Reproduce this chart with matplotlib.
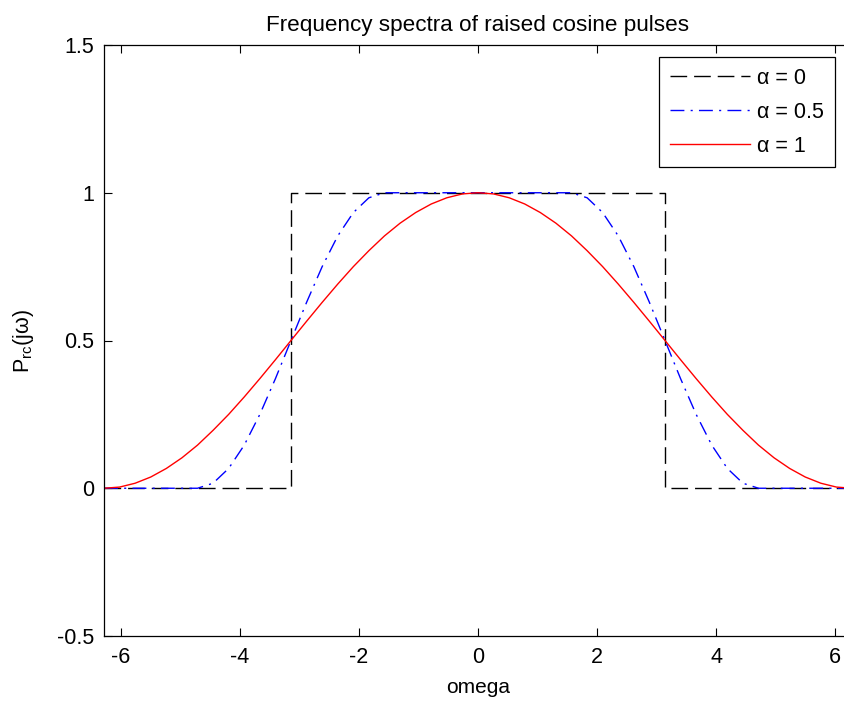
import matplotlib
matplotlib.use("Agg")
import matplotlib.pyplot as plt

plt.rcParams['font.family'] = ['Liberation Sans', 'DejaVu Sans']
plt.rcParams['lines.scale_dashes'] = False

# omega sample points (pi/12 steps from -2pi to 2pi)
omega = [-6.283, -6.021, -5.760, -5.498, -5.236, -4.974, -4.712, -4.451, -4.189,
         -3.927, -3.665, -3.403, -3.142, -2.880, -2.618, -2.356, -2.094, -1.833,
         -1.571, -1.309, -1.047, -0.785, -0.524, -0.262, 0.000, 0.262, 0.524,
         0.785, 1.047, 1.309, 1.571, 1.833, 2.094, 2.356, 2.618, 2.880, 3.142,
         3.403, 3.665, 3.927, 4.189, 4.451, 4.712, 4.974, 5.236, 5.498, 5.760,
         6.021, 6.283]

# alpha = 0 (ideal rectangle)
omega_a0 = [-6.283, -3.142, -3.142, 3.142, 3.142, 6.283]
p_a0 = [0, 0, 1, 1, 0, 0]

# alpha = 0.5
p_a05 = [0, 0, 0, 0, 0, 0, 0, 0.017, 0.067, 0.146, 0.250, 0.371, 0.500,
         0.629, 0.750, 0.854, 0.933, 0.983, 1, 1, 1, 1, 1, 1, 1, 1, 1, 1, 1, 1, 1,
         0.983, 0.933, 0.854, 0.750, 0.629, 0.500, 0.371, 0.250, 0.146, 0.067,
         0.017, 0, 0, 0, 0, 0, 0, 0]

# alpha = 1
p_a1 = [0, 0.004, 0.017, 0.038, 0.067, 0.103, 0.146, 0.196, 0.250, 0.309,
        0.371, 0.435, 0.500, 0.565, 0.629, 0.691, 0.750, 0.804, 0.854, 0.897,
        0.933, 0.962, 0.983, 0.996, 1.000, 0.996, 0.983, 0.962, 0.933, 0.897,
        0.854, 0.804, 0.750, 0.691, 0.629, 0.565, 0.500, 0.435, 0.371, 0.309,
        0.250, 0.196, 0.146, 0.103, 0.067, 0.038, 0.017, 0.004, 0]

labels = ['α = 0', 'α = 0.5', 'α = 1']
xticks = [-6, -4, -2, 0, 2, 4, 6]
yticks = [-0.5, 0, 0.5, 1, 1.5]

W, H = 844, 704
fig = plt.figure(figsize=(W / 100, H / 100), dpi=100)
ax = fig.add_axes([104 / W, (H - 636) / H, (852 - 104) / W, (636 - 45) / H])

ax.plot(omega_a0, p_a0, color='black', lw=1.0, dashes=(12, 5), label=labels[0])
ax.plot(omega, p_a05, color='blue', lw=1.0, dashes=(10, 4.5, 1.5, 4.5), label=labels[1])
ax.plot(omega, p_a1, color='red', lw=1.0, label=labels[2])

ax.set_xlim(-6.2832, 6.2832)
ax.set_ylim(-0.5, 1.5)
ax.set_xticks(xticks)
ax.set_xticklabels([str(t) for t in xticks])
ax.set_yticks(yticks)
ax.set_yticklabels([f'{t:g}' for t in yticks])

fs = 15.5
ax.tick_params(direction='in', length=6, width=0.8, top=True, right=True,
               labelsize=fs)
ax.tick_params(axis='x', pad=8)
ax.tick_params(axis='y', pad=7)
for s in ax.spines.values():
    s.set_linewidth(0.9)

ax.set_title('Frequency spectra of raised cosine pulses', fontsize=16.2, pad=10)
ax.set_xlabel('omega', fontsize=15, labelpad=7)
ax.set_ylabel(r'$\mathregular{P_{rc}(j\omega)}$', fontsize=fs, labelpad=15)

leg = ax.legend(loc='upper right', bbox_to_anchor=(835 / W, 1 - 57 / H),
                bbox_transform=fig.transFigure, borderaxespad=0, fontsize=fs,
                fancybox=False, framealpha=1, edgecolor='black',
                handlelength=3.7, handletextpad=0.35, borderpad=0.5,
                labelspacing=0.6)
leg.get_frame().set_linewidth(0.9)

fig.savefig('out.png', dpi=100)
